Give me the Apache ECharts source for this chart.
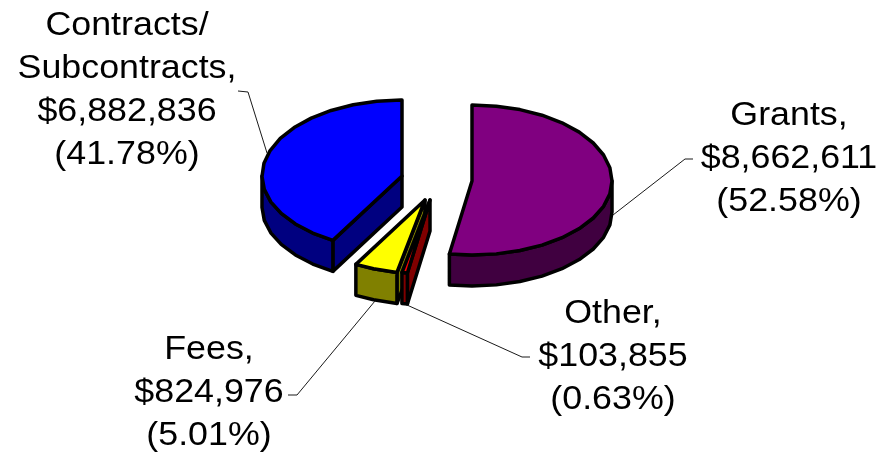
<!DOCTYPE html>
<html>
<head>
<meta charset="utf-8">
<style>html,body{margin:0;padding:0;background:#fff}#c{width:879px;height:453px}</style>
<script src="https://cdn.jsdelivr.net/npm/echarts@6/dist/echarts.min.js"></script>
</head>
<body>
<div id="c"></div>
<script>
// Data, in clockwise order from 12 o'clock
const categories = ['Grants', 'Other', 'Fees', 'Contracts/\nSubcontracts'];
const amounts = [8662611, 103855, 824976, 6882836];
const amountLabels = ['$8,662,611', '$103,855', '$824,976', '$6,882,836'];
const percentLabels = ['(52.58%)', '(0.63%)', '(5.01%)', '(41.78%)'];

// Layout and style
const topColors = ['#800080', '#ff0000', '#ffff00', '#0000ff'];
const sideColors = ['#400040', '#800000', '#808000', '#000080'];
const apexes = [[472, 181], [430, 200], [425, 200], [402, 176]];
const layers = [1, 4, 3, 2];
const labelCenters = [[789, 159], [613, 357], [209, 393], [127, 90]];
const leaders = [
  [[693, 159], [685, 159], [613, 215]],
  [[530, 357], [522, 357], [407, 305]],
  [[288, 395], [297, 395], [375, 301]],
  [[238, 91], [248, 92], [267, 153]]
];
const RX = 140, RY_BACK = 76, RY_FRONT = 74, DEPTH = 31, STEP = 10;

const total = amounts.reduce((a, b) => a + b, 0);
const starts = [];
amounts.reduce((acc, v, i) => { starts[i] = acc; return acc + v; }, 0);

function rimPoint(apex, deg) {
  const r = deg * Math.PI / 180, c = Math.cos(r);
  return [apex[0] + RX * Math.sin(r), apex[1] - (c > 0 ? RY_BACK : RY_FRONT) * c];
}
function arc(apex, a0, a1) {
  const pts = [];
  for (let a = a0; a < a1; a += STEP) pts.push(rimPoint(apex, a));
  pts.push(rimPoint(apex, a1));
  return pts;
}
const down = p => [p[0], p[1] + DEPTH];

function renderSlice(params, api) {
  const i = params.dataIndex;
  const a0 = starts[i] / total * 360;
  const a1 = a0 + api.value(0) / total * 360;
  const apex = apexes[i];
  const edge = { stroke: '#000', lineWidth: 3.5, lineJoin: 'round' };
  const poly = (points, fill) => ({ type: 'polygon', shape: { points }, style: Object.assign({ fill }, edge) });
  const children = [];

  // Cut face at the start of the slice, seen when the slice starts past the bottom
  if (a0 > 180) {
    const rim = rimPoint(apex, a0);
    children.push(poly([apex, rim, down(rim), down(apex)], sideColors[i]));
  }
  // Outer wall: the part of the rim on the front half
  const w0 = Math.max(a0, 90), w1 = Math.min(a1, 270);
  if (w1 > w0) {
    const wall = arc(apex, w0, w1);
    children.push(poly(wall.concat(wall.map(down).reverse()), sideColors[i]));
  }
  // Top face
  children.push(poly([apex].concat(arc(apex, a0, a1)), topColors[i]));

  // Leader line and label
  const label = categories[i] + ',\n' + amountLabels[i] + '\n' + percentLabels[i];
  const tag = {
    type: 'group', z2: 10, silent: true,
    children: [
      { type: 'polyline', shape: { points: leaders[i] }, style: { fill: null, stroke: '#1a1a1a', lineWidth: 1 } },
      {
        type: 'text', x: labelCenters[i][0], y: labelCenters[i][1], scaleX: 1.085,
        style: {
          x: 0, y: 0, text: label, align: 'center', verticalAlign: 'middle',
          fontFamily: '"Liberation Sans", Arial, sans-serif', fontSize: 33, lineHeight: 43, fill: '#000'
        }
      }
    ]
  };
  return { type: 'group', children: [{ type: 'group', children }, tag], z2: layers[i] };
}

const chart = echarts.init(document.getElementById('c'), null, { renderer: 'canvas' });
const order = [0, 3, 2, 1];
chart.setOption({
  animation: false,
  backgroundColor: '#fff',
  series: order.map(i => ({
    type: 'custom',
    coordinateSystem: 'none',
    silent: true,
    z: layers[i],
    renderItem: (params, api) => renderSlice({ dataIndex: i }, api),
    data: [{ name: categories[i], value: [amounts[i]] }]
  }))
});
</script>
</body>
</html>
